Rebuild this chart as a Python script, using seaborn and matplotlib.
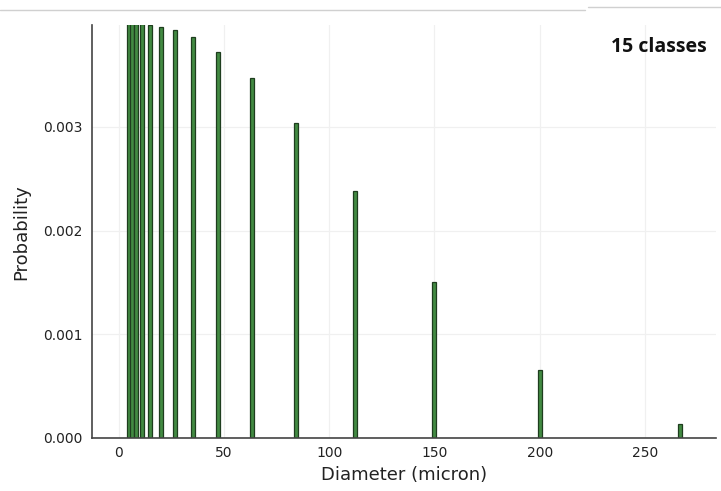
import numpy as np
import pandas as pd
import seaborn as sns
import matplotlib.pyplot as plt
from matplotlib.lines import Line2D

# class diameters (micron) and probabilities
diameters = [4.75, 6.33, 8.44, 11.26, 15.01, 20.01, 26.68, 35.58,
             47.44, 63.25, 84.33, 112.4, 149.9, 199.9, 266.5]
probs = [0.00400, 0.00400, 0.00399, 0.00399, 0.00398, 0.003965, 0.003933, 0.003863,
         0.003725, 0.003471, 0.003038, 0.002385, 0.001506, 0.000651, 0.000138]
xticks = [0, 50, 100, 150, 200, 250]
yticks = [0.000, 0.001, 0.002, 0.003]

df = pd.DataFrame({"Diameter": diameters, "Probability": probs})

sns.set_style("white")
plt.rcParams["font.family"] = ["DejaVu Sans"]

fig = plt.figure(figsize=(7.21, 4.91), dpi=100)
ax = fig.add_axes([0.1276, 0.108, 0.8655, 0.841])

sns.barplot(data=df, x="Diameter", y="Probability", native_scale=True,
            color="#428a42", edgecolor="#1e3d1e", linewidth=0.9,
            width=1.0, ax=ax, saturation=1)

# keep every bar the same width in data units
for p in ax.patches:
    cx = p.get_x() + p.get_width() / 2
    p.set_width(1.9)
    p.set_x(cx - 0.95)

ax.set_xlim(-12.6, 283.7)
ax.set_ylim(0, 0.003982)
ax.set_xticks(xticks)
ax.set_yticks(yticks)
ax.set_yticklabels([f"{v:.3f}" for v in yticks])
ax.tick_params(axis="both", direction="in", length=4, width=1,
               labelsize=10, colors="#555555", labelcolor="#222222")
ax.tick_params(axis="x", pad=6)
ax.tick_params(axis="y", pad=7)
ax.grid(True, color="#f0f0f0", linewidth=0.9)
ax.set_axisbelow(True)

for side in ["top", "right"]:
    ax.spines[side].set_visible(False)
for side in ["left", "bottom"]:
    ax.spines[side].set_color("#444444")
    ax.spines[side].set_linewidth(1.2)

ax.set_xlabel("Diameter (micron)", fontsize=13, color="#222222")
ax.set_ylabel("Probability", fontsize=13, color="#222222")
ax.xaxis.set_label_coords((404 - 92) / 624, (438 - 466) / 413)
ax.yaxis.set_label_coords((30 - 92) / 624, (438 - 232) / 413)

fig.text(0.9805, 0.905, "15 classes", ha="right", va="center",
         fontsize=14, fontweight="bold", family=["Open Sans", "DejaVu Sans"],
         color="#111111")

# thin grey screenshot borders at the top
fig.add_artist(Line2D([0, 0.812], [0.980, 0.980], color="#d0d0d0", linewidth=1))
fig.add_artist(Line2D([0.816, 1.0], [0.986, 0.986], color="#d0d0d0", linewidth=1))

fig.savefig("out.png", dpi=100)
